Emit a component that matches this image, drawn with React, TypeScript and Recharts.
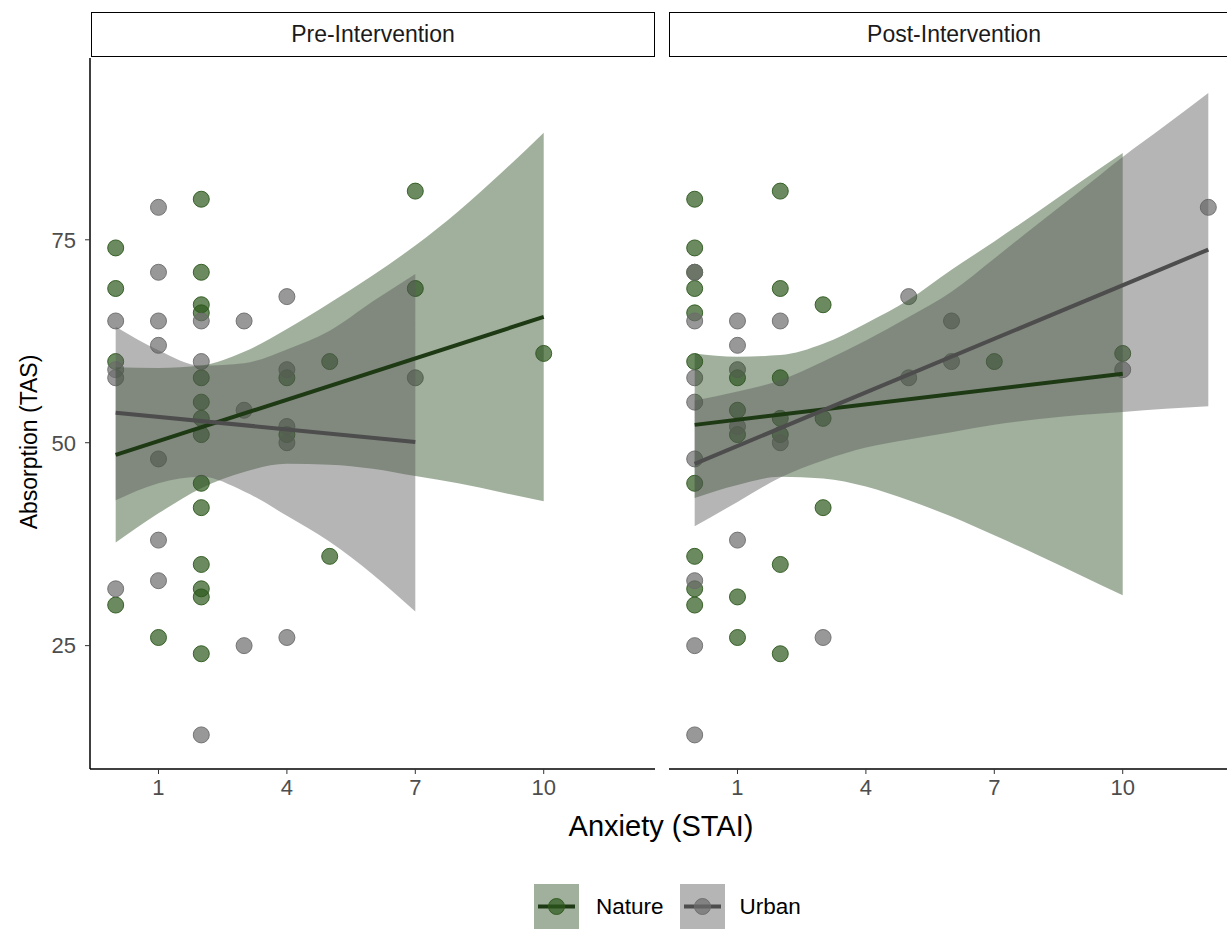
import React from 'react';
import { ComposedChart, XAxis, YAxis, Scatter, Line, Area } from 'recharts';

const xTicks = [1, 4, 7, 10];
const yTicks = [25, 50, 75];
const xDomain = [-0.6, 12.6];
const yDomain = [9.8, 97.4];

// [anxiety, absorption]
const preNature = [
  [0, 74], [0, 69], [0, 60], [0, 30],
  [1, 26],
  [2, 80], [2, 71], [2, 67], [2, 66], [2, 58], [2, 55], [2, 53], [2, 51], [2, 45], [2, 42], [2, 35], [2, 32], [2, 31], [2, 24],
  [4, 58], [4, 51],
  [5, 60], [5, 36],
  [7, 81], [7, 69],
  [10, 61],
];
const preUrban = [
  [0, 65], [0, 59], [0, 58], [0, 32],
  [1, 79], [1, 71], [1, 65], [1, 62], [1, 48], [1, 38], [1, 33],
  [2, 65], [2, 60], [2, 14],
  [3, 65], [3, 54], [3, 25],
  [4, 68], [4, 59], [4, 52], [4, 50], [4, 26],
  [7, 58],
];
const postNature = [
  [0, 80], [0, 74], [0, 71], [0, 69], [0, 66], [0, 60], [0, 45], [0, 36], [0, 32], [0, 30],
  [1, 58], [1, 54], [1, 51], [1, 31], [1, 26],
  [2, 81], [2, 69], [2, 58], [2, 53], [2, 51], [2, 35], [2, 24],
  [3, 67], [3, 53], [3, 42],
  [7, 60],
  [10, 61],
];
const postUrban = [
  [0, 71], [0, 65], [0, 58], [0, 55], [0, 48], [0, 33], [0, 25], [0, 14],
  [1, 65], [1, 62], [1, 59], [1, 52], [1, 38],
  [2, 65], [2, 50],
  [3, 26],
  [5, 68], [5, 58],
  [6, 65], [6, 60],
  [10, 59],
  [12, 79],
];

// fitted lines, read at their ends
const preNatureFit = [[0, 48.5], [10, 65.5]];
const preUrbanFit = [[0, 53.7], [7, 50.1]];
const postNatureFit = [[0, 52.2], [10, 58.5]];
const postUrbanFit = [[0, 47.4], [12, 73.8]];

// confidence bands [x, low, high]
const preNatureBand = [
  [0, 37.7, 59.3], [1, 41.3, 59.2], [2, 44.4, 59.5], [3, 46.4, 61.2], [4, 47.4, 64.0], [5, 47.3, 67.2],
  [6, 46.8, 70.6], [7, 45.9, 74.3], [8, 45.0, 78.5], [9, 43.9, 83.2], [10, 42.8, 88.2],
];
const preUrbanBand = [
  [0, 42.9, 64.3], [1, 45.0, 61.4], [2, 45.8, 59.5], [3, 44.0, 59.8], [4, 41.0, 61.5], [5, 37.8, 63.8],
  [6, 33.8, 67.4], [7, 29.2, 70.8],
];
const postNatureBand = [
  [0, 43.2, 61.0], [1, 44.8, 60.6], [2, 45.8, 60.8], [3, 45.6, 62.2], [4, 44.6, 64.7], [5, 42.9, 67.6],
  [6, 40.9, 71.3], [7, 38.6, 74.8], [8, 36.2, 78.4], [9, 33.7, 82.1], [10, 31.2, 85.7],
];
const postUrbanBand = [
  [0, 39.7, 55.2], [1, 42.7, 56.3], [2, 45.7, 57.7], [3, 47.8, 60.0], [4, 49.4, 62.6], [5, 50.4, 65.5],
  [6, 51.3, 68.6], [7, 52.2, 72.7], [8, 52.9, 76.9], [9, 53.4, 81.0], [10, 53.8, 85.2], [11, 54.2, 89.1],
  [12, 54.5, 93.1],
];

const NATURE = { line: '#1e3a14', point: '#2c581c', band: '#2f4f25' };
const URBAN = { line: '#4d4d4d', point: '#6c6c6c', band: '#5a5a5a' };
const BAND_OPACITY = 0.45;
const FONT = '"Liberation Sans", Arial, sans-serif';
const TICK_FONT = 22;

const toXY = (rows: number[][]) => rows.map(([x, y]) => ({ x, y }));
const toBand = (rows: number[][]) => rows.map(([x, lo, hi]) => ({ x, lo, hi }));

const dot = (color: string) => (props: any) => (
  <circle
    cx={props.cx}
    cy={props.cy}
    r={8}
    fill={color}
    fillOpacity={0.7}
    stroke={color}
    strokeOpacity={0.9}
    strokeWidth={1}
  />
);

interface PanelProps {
  left: number;
  width: number;
  showY: boolean;
  nature: number[][];
  urban: number[][];
  natureBand: number[][];
  urbanBand: number[][];
  natureFit: number[][];
  urbanFit: number[][];
}

const CH = 800;

// points go in a chart underneath, bands and fits in a transparent one on top
const Panel: React.FC<PanelProps> = (p) => {
  const yw = p.showY ? 90 : 0;
  return (
    <>
      <div style={{ position: 'absolute', left: p.left, top: 0, zIndex: 1 }}>
        <ComposedChart width={p.width} height={CH} margin={{ top: 58, right: 0, bottom: 0, left: 0 }}>
          <XAxis
            type="number"
            dataKey="x"
            domain={xDomain}
            ticks={xTicks}
            allowDataOverflow
            height={31}
            tickSize={5}
            tickMargin={5}
            axisLine={{ stroke: '#000', strokeWidth: 1.5 }}
            tickLine={{ stroke: '#333' }}
            tick={{ fill: '#4d4d4d', fontSize: TICK_FONT, fontFamily: FONT }}
          />
          <YAxis
            type="number"
            dataKey="y"
            domain={yDomain}
            ticks={yTicks}
            allowDataOverflow
            hide={!p.showY}
            width={yw}
            tickSize={5}
            tickMargin={9}
            axisLine={{ stroke: '#000', strokeWidth: 1.5 }}
            tickLine={{ stroke: '#333' }}
            tick={{ fill: '#4d4d4d', fontSize: TICK_FONT, fontFamily: FONT }}
          />
          <Scatter data={toXY(p.nature)} dataKey="y" shape={dot(NATURE.point)} isAnimationActive={false} />
          <Scatter data={toXY(p.urban)} dataKey="y" shape={dot(URBAN.point)} isAnimationActive={false} />
        </ComposedChart>
      </div>
      <div style={{ position: 'absolute', left: p.left, top: 0, zIndex: 2 }}>
        <ComposedChart width={p.width} height={CH} margin={{ top: 58, right: 0, bottom: 31, left: yw }}>
          <XAxis type="number" dataKey="x" domain={xDomain} allowDataOverflow hide />
          <YAxis type="number" dataKey="y" domain={yDomain} allowDataOverflow hide />
          <Area
            data={toBand(p.natureBand)}
            dataKey={(d: any) => [d.lo, d.hi]}
            type="monotone"
            stroke="none"
            fill={NATURE.band}
            fillOpacity={BAND_OPACITY}
            isAnimationActive={false}
          />
          <Area
            data={toBand(p.urbanBand)}
            dataKey={(d: any) => [d.lo, d.hi]}
            type="monotone"
            stroke="none"
            fill={URBAN.band}
            fillOpacity={BAND_OPACITY}
            isAnimationActive={false}
          />
          <Line
            data={toXY(p.natureFit)}
            dataKey="y"
            type="linear"
            stroke={NATURE.line}
            strokeWidth={4}
            dot={false}
            isAnimationActive={false}
          />
          <Line
            data={toXY(p.urbanFit)}
            dataKey="y"
            type="linear"
            stroke={URBAN.line}
            strokeWidth={4}
            dot={false}
            isAnimationActive={false}
          />
        </ComposedChart>
      </div>
    </>
  );
};

const Strip: React.FC<{ left: number; width: number; label: string }> = ({ left, width, label }) => (
  <div
    style={{
      position: 'absolute',
      left,
      top: 12,
      width,
      height: 45,
      boxSizing: 'border-box',
      border: '1.5px solid #000',
      background: '#fff',
      display: 'flex',
      alignItems: 'center',
      justifyContent: 'center',
      fontSize: 23,
      color: '#1a1a1a',
      zIndex: 3,
    }}
  >
    {label}
  </div>
);

const LegendKey: React.FC<{ c: typeof NATURE }> = ({ c }) => (
  <svg width={45} height={45} style={{ display: 'block' }}>
    <rect x={0} y={0} width={45} height={45} fill={c.band} fillOpacity={BAND_OPACITY} />
    <line x1={4} x2={41} y1={22.5} y2={22.5} stroke={c.line} strokeWidth={4} />
    <circle cx={22.5} cy={22.5} r={8} fill={c.point} fillOpacity={0.7} stroke={c.point} strokeOpacity={0.9} />
  </svg>
);

export default function App() {
  return (
    <div
      style={{
        position: 'absolute',
        left: 0,
        top: 0,
        width: 1227,
        height: 929,
        overflow: 'hidden',
        background: '#fff',
        fontFamily: FONT,
      }}
    >
      <Panel
        left={0}
        width={655}
        showY
        nature={preNature}
        urban={preUrban}
        natureBand={preNatureBand}
        urbanBand={preUrbanBand}
        natureFit={preNatureFit}
        urbanFit={preUrbanFit}
      />
      <Panel
        left={669}
        width={565}
        showY={false}
        nature={postNature}
        urban={postUrban}
        natureBand={postNatureBand}
        urbanBand={postUrbanBand}
        natureFit={postNatureFit}
        urbanFit={postUrbanFit}
      />
      <Strip left={91} width={564} label="Pre-Intervention" />
      <Strip left={669} width={570} label="Post-Intervention" />
      <div
        style={{
          position: 'absolute',
          left: 29,
          top: 442,
          transform: 'translate(-50%, -50%) rotate(-90deg)',
          whiteSpace: 'nowrap',
          fontSize: 23,
          color: '#000',
        }}
      >
        Absorption (TAS)
      </div>
      <div
        style={{
          position: 'absolute',
          left: 661,
          top: 826,
          transform: 'translate(-50%, -50%)',
          whiteSpace: 'nowrap',
          fontSize: 29,
          color: '#000',
        }}
      >
        Anxiety (STAI)
      </div>
      <div
        style={{
          position: 'absolute',
          left: 534,
          top: 884,
          display: 'flex',
          alignItems: 'center',
          fontSize: 22.5,
          color: '#000',
        }}
      >
        <LegendKey c={NATURE} />
        <span style={{ marginLeft: 17, marginRight: 16 }}>Nature</span>
        <LegendKey c={URBAN} />
        <span style={{ marginLeft: 15 }}>Urban</span>
      </div>
    </div>
  );
}
